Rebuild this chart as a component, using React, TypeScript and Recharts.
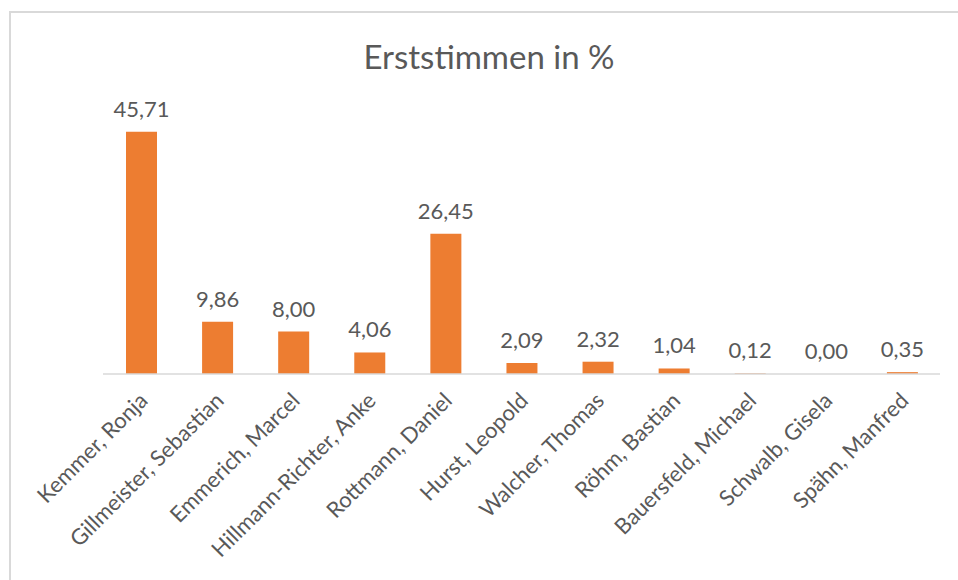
import { BarChart, Bar, XAxis, YAxis, LabelList } from 'recharts';

const candidates = [
  'Kemmer, Ronja',
  'Gillmeister, Sebastian',
  'Emmerich, Marcel',
  'Hillmann-Richter, Anke',
  'Rottmann, Daniel',
  'Hurst, Leopold',
  'Walcher, Thomas',
  'Röhm, Bastian',
  'Bauersfeld, Michael',
  'Schwalb, Gisela',
  'Spähn, Manfred',
];

const percentages = [45.71, 9.86, 8.0, 4.06, 26.45, 2.09, 2.32, 1.04, 0.12, 0.0, 0.35];

const data = candidates.map((name, i) => ({ name, value: percentages[i] }));

const FONT = 'Lato, "Open Sans", sans-serif';
const TEXT = '#595959';

function RotatedTick(props: any) {
  const { x, y, payload } = props;
  return (
    <g transform={`translate(${x + 8},${y + 20})`}>
      <text
        textAnchor="end"
        transform="rotate(-45)"
        fill={TEXT}
        fontSize={22}
        fontFamily={FONT}
      >
        {payload.value}
      </text>
    </g>
  );
}

export default function App() {
  return (
    <div
      style={{
        position: 'absolute',
        left: 0,
        top: 0,
        width: 958,
        height: 580,
        background: '#fff',
        overflow: 'hidden',
      }}
    >
      <div
        style={{
          position: 'absolute',
          left: 9,
          top: 11,
          width: 1000,
          height: 1000,
          borderTop: '2px solid #d9d9d9',
          borderLeft: '2px solid #d9d9d9',
        }}
      />
      <div
        style={{
          position: 'absolute',
          left: 0,
          top: 36,
          width: 978,
          textAlign: 'center',
          fontFamily: FONT,
          fontSize: 33,
          color: TEXT,
        }}
      >
        Erststimmen in %
      </div>
      <div style={{ position: 'absolute', left: 0, top: 0 }}>
        <BarChart
          width={958}
          height={580}
          data={data}
          margin={{ top: 109, left: 103, right: 18, bottom: 0 }}
        >
          <XAxis
            dataKey="name"
            interval={0}
            tickLine={false}
            axisLine={{ stroke: '#d9d9d9', strokeWidth: 1.5 }}
            tick={<RotatedTick />}
            height={206}
          />
          <YAxis hide domain={[0, 50]} />
          <Bar
            dataKey="value"
            fill="#ED7D31"
            barSize={31}
            minPointSize={0.01}
            isAnimationActive={false}
          >
            <LabelList
              dataKey="value"
              position="top"
              offset={15}
              fill={TEXT}
              fontSize={22}
              fontFamily={FONT}
              formatter={(v: any) => Number(v).toFixed(2).replace('.', ',')}
            />
          </Bar>
        </BarChart>
      </div>
    </div>
  );
}
